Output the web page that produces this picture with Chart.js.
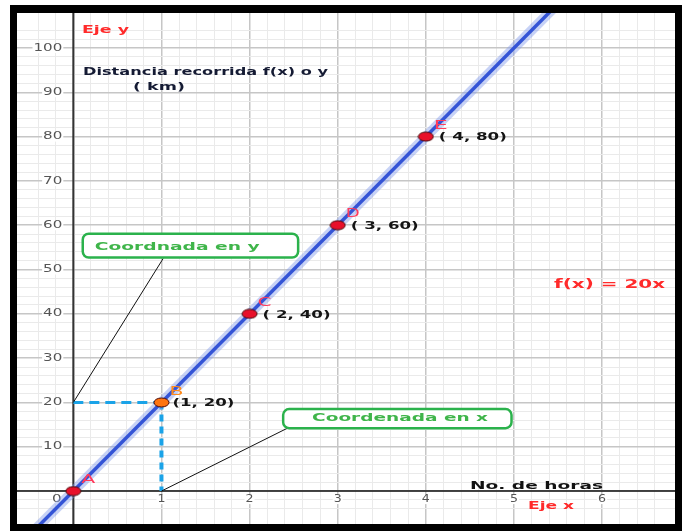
<!DOCTYPE html>
<html>
<head>
<meta charset="utf-8">
<script src="https://cdn.jsdelivr.net/npm/chart.js@4.4.0/dist/chart.umd.min.js"></script>
<style>
html, body { margin: 0; padding: 0; background: #fff; }
canvas { display: block; }
</style>
</head>
<body>
<canvas id="grafica" width="682" height="531"></canvas>
<script>
// datos de la grafica f(x) = 20x
var puntosX = [0, 1, 2, 3, 4];
var puntosY = [0, 20, 40, 60, 80];
var letras = ['A', 'B', 'C', 'D', 'E'];
var etiquetas = ['', '(1, 20)', '( 2, 40)', '( 3, 60)', '( 4, 80)'];
var rectaX = [-1, 6];
var rectaY = [-20, 120];
var ticksX = [1, 2, 3, 4, 5, 6];
var ticksY = [10, 20, 30, 40, 50, 60, 70, 80, 90, 100];

function pares(xs, ys) {
    var out = [];
    for (var i = 0; i < xs.length; i++) {
        out.push({x: xs[i], y: ys[i]});
    }
    return out;
}

function elipse(color) {
    var c = document.createElement('canvas');
    c.width = 17;
    c.height = 11;
    var cx = c.getContext('2d');
    cx.beginPath();
    cx.ellipse(8.5, 5.5, 7.5, 4.5, 0, 0, Math.PI * 2);
    cx.fillStyle = color;
    cx.fill();
    cx.lineWidth = 1;
    cx.strokeStyle = '#4a0a0a';
    cx.stroke();
    return c;
}
var puntoRojo = elipse('#e8102a');
var puntoNaranja = elipse('#ff7410');

// texto estirado a un ancho dado
function texto(ctx, t, x, y, ancho, fuente, color, align) {
    ctx.save();
    ctx.font = fuente;
    var m = ctx.measureText(t).width;
    var x0 = x;
    if (align === 'center') x0 = x - ancho / 2;
    if (align === 'right') x0 = x - ancho;
    ctx.translate(x0, y);
    ctx.scale(ancho / m, 1);
    ctx.textBaseline = 'middle';
    ctx.textAlign = 'left';
    ctx.fillStyle = color;
    ctx.fillText(t, 0, 0);
    ctx.restore();
}

function esMultiplo(v, paso) {
    var r = v / paso;
    return Math.abs(r - Math.round(r)) < 1e-6;
}

const fondo = {
    id: 'fondo',
    beforeDraw(chart) {
        var ctx = chart.ctx;
        ctx.save();
        ctx.fillStyle = '#fff';
        ctx.fillRect(0, 0, chart.width, chart.height);
        ctx.restore();
    }
};

const ejes = {
    id: 'ejes',
    beforeDatasetsDraw(chart) {
        var ctx = chart.ctx;
        var sx = chart.scales.x, sy = chart.scales.y, a = chart.chartArea;
        var x0 = sx.getPixelForValue(0), y0 = sy.getPixelForValue(0);
        ctx.save();
        ctx.strokeStyle = '#333';
        ctx.lineWidth = 2;
        ctx.beginPath();
        ctx.moveTo(x0, a.top);
        ctx.lineTo(x0, a.bottom);
        ctx.stroke();
        ctx.strokeStyle = '#111';
        ctx.lineWidth = 1.5;
        ctx.beginPath();
        ctx.moveTo(a.left, y0);
        ctx.lineTo(a.right, y0);
        ctx.stroke();

        var f = '10px "DejaVu Sans"';
        for (var i = 0; i < ticksY.length; i++) {
            var py = sy.getPixelForValue(ticksY[i]);
            var w = String(ticksY[i]).length * 9.6;
            ctx.fillStyle = '#fff';
            ctx.fillRect(x0 - 12 - w, py - 5, w + 2, 10);
            texto(ctx, String(ticksY[i]), x0 - 11, py, w, f, '#555', 'right');
        }
        for (var j = 0; j < ticksX.length; j++) {
            var px = sx.getPixelForValue(ticksX[j]);
            ctx.fillStyle = '#fff';
            ctx.fillRect(px - 5, y0 + 4, 10, 9);
            texto(ctx, String(ticksX[j]), px, y0 + 8.5, 8, f, '#555', 'center');
        }
        ctx.fillStyle = '#fff';
        ctx.fillRect(x0 - 21, y0 + 4, 10, 9);
        texto(ctx, '0', x0 - 16.5, y0 + 8.5, 9.6, f, '#555', 'center');
        ctx.restore();
    }
};

const notas = {
    id: 'notas',
    afterDatasetsDraw(chart) {
        var ctx = chart.ctx;
        var sx = chart.scales.x, sy = chart.scales.y;
        var X = function (v) { return sx.getPixelForValue(v); };
        var Y = function (v) { return sy.getPixelForValue(v); };
        var negrita = 'bold 11px "DejaVu Sans"';
        ctx.save();

        // lineas guia hacia los recuadros
        ctx.strokeStyle = '#111';
        ctx.lineWidth = 1;
        ctx.beginPath();
        ctx.moveTo(X(1.02), Y(52.5));
        ctx.lineTo(X(0), Y(puntosY[1]));
        ctx.moveTo(X(2.45), Y(14.4));
        ctx.lineTo(X(puntosX[1]), Y(0));
        ctx.stroke();

        var cajas = [
            {x1: 0.107, x2: 2.551, y1: 58.1, y2: 52.7, t: 'Coordnada en y', tx: 0.243, ty: 55.0, w: 165},
            {x1: 2.381, x2: 4.972, y1: 18.5, y2: 14.2, t: 'Coordenada en x', tx: 2.709, ty: 16.4, w: 176}
        ];
        cajas.forEach(function (c) {
            var l = X(c.x1), r = X(c.x2), t = Y(c.y1), b = Y(c.y2);
            ctx.beginPath();
            ctx.roundRect(l, t, r - l, b - t, 6);
            ctx.fillStyle = '#fff';
            ctx.fill();
            ctx.strokeStyle = '#2bb24c';
            ctx.lineWidth = 2.5;
            ctx.stroke();
            texto(ctx, c.t, X(c.tx), Y(c.ty), c.w, negrita, '#3fb54a', 'left');
        });

        // letras y coordenadas de los puntos
        for (var i = 0; i < puntosX.length; i++) {
            var px = X(puntosX[i]), py = Y(puntosY[i]);
            var col = i === 1 ? '#ff8a1c' : '#ff3b5c';
            texto(ctx, letras[i], px + 8, py - 11, 14, '12px "DejaVu Sans"', col, 'left');
            if (etiquetas[i]) {
                var w = i === 1 ? 62 : 68;
                texto(ctx, etiquetas[i], px + (i === 1 ? 11 : 13), py + 1, w, negrita, '#141414', 'left');
            }
        }

        // textos
        texto(ctx, 'Eje y', 82, 30, 47, negrita, '#ff2a2a', 'left');
        texto(ctx, 'Distancia recorrida f(x) o y', 83, 72, 245, negrita, '#141a33', 'left');
        texto(ctx, '( km)', 133, 87, 52, negrita, '#141a33', 'left');
        texto(ctx, 'No. de horas', 470, 486, 133, negrita, '#111', 'left');
        texto(ctx, 'Eje x', 528, 506, 46, negrita, '#ff2a2a', 'left');
        texto(ctx, 'f(x) = 20x', 554, 285, 111, 'bold 13px "DejaVu Sans"', '#ff2a2a', 'left');
        ctx.restore();
    },
    afterDraw(chart) {
        // marco negro
        var ctx = chart.ctx, a = chart.chartArea;
        ctx.save();
        ctx.fillStyle = '#000';
        ctx.fillRect(10, 5, chart.width - 10, a.top - 5);
        ctx.fillRect(10, 5, a.left - 10, chart.height - 5);
        ctx.fillRect(a.right, 5, chart.width - a.right, chart.height - 5);
        ctx.fillRect(10, a.bottom, chart.width - 10, chart.height - a.bottom);
        ctx.restore();
    }
};

function rejilla(paso, mayor) {
    return {
        drawTicks: false,
        color: function (c) { return esMultiplo(c.tick.value, mayor) ? '#c6c6c6' : '#eaeaea'; },
        lineWidth: function (c) { return esMultiplo(c.tick.value, mayor) ? 1.5 : 1; }
    };
}

const data = {
    datasets: [
        {
            label: 'Puntos',
            data: pares(puntosX, puntosY),
            pointStyle: function (c) { return c.dataIndex === 1 ? puntoNaranja : puntoRojo; },
            pointRadius: 6,
            showLine: false,
            order: 0
        },
        {
            label: 'f(x) = 20x',
            data: pares(rectaX, rectaY),
            showLine: true,
            borderColor: '#3454d6',
            borderWidth: 3.5,
            pointRadius: 0,
            clip: 0,
            order: 1
        },
        {
            label: 'brillo',
            data: pares(rectaX, rectaY),
            showLine: true,
            borderColor: 'rgba(130, 155, 235, 0.45)',
            borderWidth: 10,
            pointRadius: 0,
            clip: 0,
            order: 2
        },
        {
            label: 'guia y',
            data: [{x: 0, y: puntosY[1]}, {x: puntosX[1], y: puntosY[1]}],
            showLine: true,
            borderColor: '#1aa3e8',
            borderWidth: 3,
            borderDash: [10, 6],
            pointRadius: 0,
            order: 3
        },
        {
            label: 'guia x',
            data: [{x: puntosX[1], y: puntosY[1]}, {x: puntosX[1], y: 0}],
            showLine: true,
            borderColor: '#1aa3e8',
            borderWidth: 4,
            borderDash: [7, 5],
            pointRadius: 0,
            order: 3
        }
    ]
};

const config = {
    type: 'scatter',
    data: data,
    options: {
        responsive: false,
        animation: false,
        devicePixelRatio: 1,
        layout: { padding: { left: 17, top: 13, right: 5, bottom: 6 } },
        scales: {
            x: {
                type: 'linear',
                min: -0.639,
                max: 6.827,
                ticks: { display: false, stepSize: 0.2, maxTicksLimit: 100 },
                grid: rejilla(0.2, 1),
                border: { display: false },
                afterBuildTicks: function (s) { s.ticks = s.ticks.filter(function (t) { return esMultiplo(t.value, 0.2); }); }
            },
            y: {
                type: 'linear',
                min: -7.43,
                max: 107.9,
                ticks: { display: false, stepSize: 2, maxTicksLimit: 100 },
                grid: rejilla(2, 10),
                border: { display: false },
                afterBuildTicks: function (s) { s.ticks = s.ticks.filter(function (t) { return esMultiplo(t.value, 2); }); }
            }
        },
        plugins: {
            legend: { display: false },
            tooltip: { enabled: false }
        }
    },
    plugins: [fondo, ejes, notas]
};

const grafica = new Chart(document.getElementById('grafica'), config);
</script>
</body>
</html>
